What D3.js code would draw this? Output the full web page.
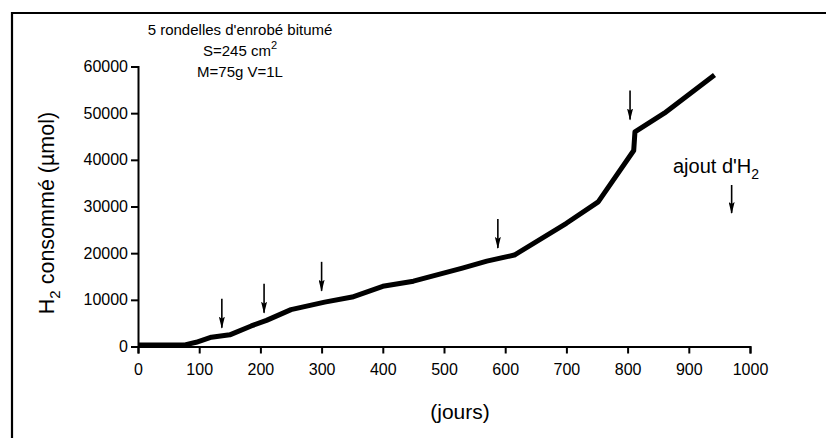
<!DOCTYPE html>
<html>
<head>
<meta charset="utf-8">
<script src="https://cdn.jsdelivr.net/npm/d3@7"></script>
<style>
  body { margin: 0; background: #fff; }
  svg { display: block; font-family: "Liberation Sans", Arial, sans-serif; }
</style>
</head>
<body>
<script>
// days / cumulative H2 consumed (umol)
var days = [0, 75, 95, 120, 150, 185, 210, 250, 305, 350, 400, 450, 530, 570, 615, 700, 752, 810, 812, 860, 942];
var h2   = [300, 300, 900, 2000, 2500, 4400, 5600, 7900, 9500, 10600, 12900, 14000, 16800, 18300, 19600, 26400, 31000, 42000, 46000, 50000, 58200];
// H2 additions (arrows): day and value at the arrow tip
var arrowDays = [137, 206, 300, 588, 804];
var arrowTips = [3600, 6800, 11500, 20700, 48200];
var xTicks = [0, 100, 200, 300, 400, 500, 600, 700, 800, 900, 1000];
var yTicks = [0, 10000, 20000, 30000, 40000, 50000, 60000];

var W = 826, H = 438;
var svg = d3.select("body").append("svg").attr("width", W).attr("height", H);

var x = d3.scaleLinear().domain([0, 1000]).range([138, 750]);
var y = d3.scaleLinear().domain([0, 60000]).range([346.5, 66.5]);

// frame (top + left only, as in the scan)
svg.append("path")
    .attr("d", "M12,438 L12,13 L826,13")
    .attr("fill", "none")
    .attr("stroke", "#000")
    .attr("stroke-width", 2.2);

var xAxis = svg.append("g")
    .attr("transform", "translate(0," + y(0) + ")")
    .call(d3.axisBottom(x).tickValues(xTicks).tickSize(7).tickFormat(d3.format("d")));
var yAxis = svg.append("g")
    .attr("transform", "translate(" + x(0) + ",0)")
    .call(d3.axisLeft(y).tickValues(yTicks).tickSize(7).tickFormat(d3.format("d")));

[xAxis, yAxis].forEach(function(a) {
    a.selectAll("path, line").attr("stroke", "#000").attr("stroke-width", 2);
    a.selectAll("text").attr("fill", "#000").attr("font-size", "16px")
        .attr("font-family", "'Liberation Sans', Arial, sans-serif");
});
xAxis.selectAll("text").attr("dy", "1.15em");
yAxis.selectAll("text").attr("x", -10);

var line = d3.line()
    .x(function(d, i) { return x(days[i]); })
    .y(function(d, i) { return y(h2[i]); });

svg.append("path")
    .datum(h2)
    .attr("d", line)
    .attr("fill", "none")
    .attr("stroke", "#000")
    .attr("stroke-width", 5)
    .attr("stroke-linejoin", "round");

// arrow head marker (points along +x, rotated by orient)
svg.append("defs").append("marker")
    .attr("id", "head")
    .attr("viewBox", "0 0 12 6")
    .attr("refX", 11).attr("refY", 3)
    .attr("markerWidth", 12).attr("markerHeight", 6)
    .attr("markerUnits", "userSpaceOnUse")
    .attr("orient", "auto")
    .append("path")
    .attr("d", "M0,0 L12,3 L0,6 L2,3 Z")
    .attr("fill", "#000");

function arrow(px, tipY, len) {
    svg.append("line")
        .attr("x1", px).attr("x2", px)
        .attr("y1", tipY - len).attr("y2", tipY - 2)
        .attr("stroke", "#000")
        .attr("stroke-width", 1.6)
        .attr("marker-end", "url(#head)");
}

arrowDays.forEach(function(d, i) {
    arrow(x(d), y(arrowTips[i]), 31);
});

// legend arrow
arrow(x(970), 215, 30);

var legend = svg.append("text")
    .attr("x", 673).attr("y", 173)
    .attr("font-size", "20px").attr("fill", "#000");
legend.append("tspan").text("ajout d'H");
legend.append("tspan").attr("font-size", "14px").attr("dy", 6).text("2");

// annotation
var note = svg.append("g").attr("font-size", "15px").attr("fill", "#000").attr("text-anchor", "middle");
note.append("text").attr("x", 240).attr("y", 35).text("5 rondelles d'enrobé bitumé");
var s = note.append("text").attr("x", 240).attr("y", 56);
s.append("tspan").text("S=245 cm");
s.append("tspan").attr("font-size", "11px").attr("dy", -7).text("2");
note.append("text").attr("x", 240).attr("y", 77).text("M=75g V=1L");

// axis titles
var yt = svg.append("text")
    .attr("transform", "translate(54,213) rotate(-90)")
    .attr("text-anchor", "middle")
    .attr("font-size", "21.5px").attr("fill", "#000");
yt.append("tspan").text("H");
yt.append("tspan").attr("font-size", "15px").attr("dy", 6).text("2");
yt.append("tspan").attr("dy", -6).text(" consommé (µmol)");

svg.append("text")
    .attr("x", 460).attr("y", 419)
    .attr("text-anchor", "middle")
    .attr("font-size", "21px").attr("fill", "#000")
    .text("(jours)");
</script>
</body>
</html>
